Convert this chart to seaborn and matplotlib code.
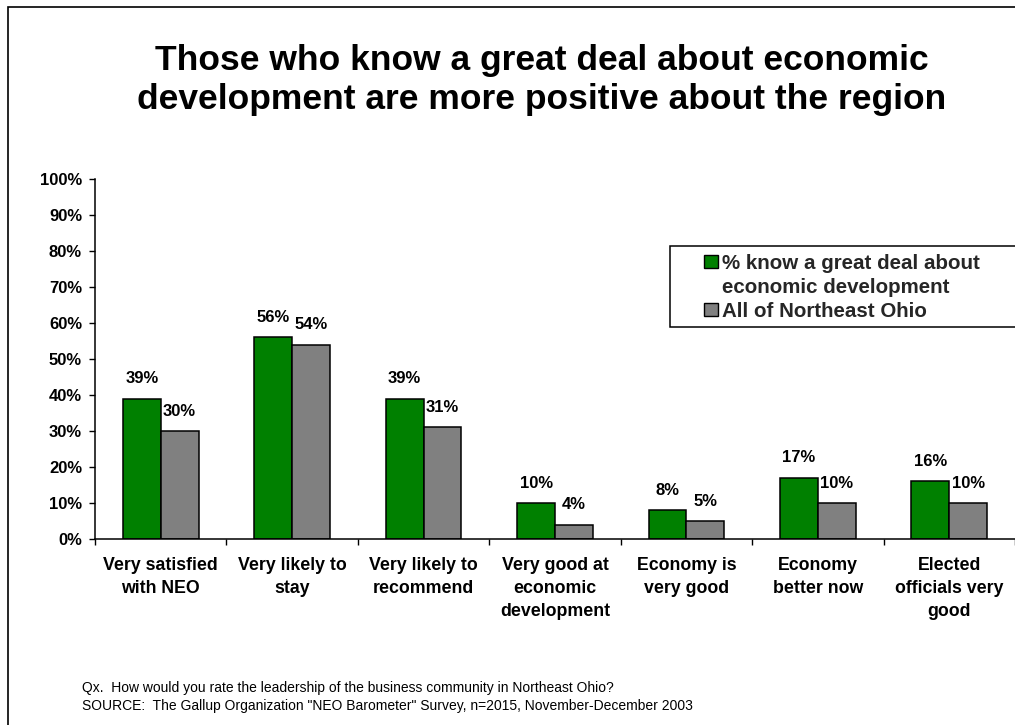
import matplotlib
matplotlib.use("Agg")
import matplotlib.pyplot as plt
from matplotlib.patches import Patch, Rectangle
import seaborn as sns
import pandas as pd

# --- chart data -------------------------------------------------------------
categories = [
    "Very satisfied\nwith NEO",
    "Very likely to\nstay",
    "Very likely to\nrecommend",
    "Very good at\neconomic\ndevelopment",
    "Economy is\nvery good",
    "Economy\nbetter now",
    "Elected\nofficials very\ngood",
]
series_names = ["% know a great deal about economic development", "All of Northeast Ohio"]
legend_lines = ["% know a great deal about", "economic development", "All of Northeast Ohio"]
know_great_deal = [39, 56, 39, 10, 8, 17, 16]
all_northeast_ohio = [30, 54, 31, 4, 5, 10, 10]
y_ticks = [0, 10, 20, 30, 40, 50, 60, 70, 80, 90, 100]
y_tick_labels = [f"{t}%" for t in y_ticks]

title = ("Those who know a great deal about economic\n"
         "development are more positive about the region")
footnotes = [
    "Qx.  How would you rate the leadership of the business community in Northeast Ohio?",
    'SOURCE:  The Gallup Organization "NEO Barometer" Survey, n=2015, November-December 2003',
]

GREEN = "#008000"
GRAY = "#808080"

sns.set_theme(style="white")
plt.rcParams["font.family"] = ["Liberation Sans", "DejaVu Sans"]

df = pd.DataFrame({
    "category": categories * 2,
    "pct": know_great_deal + all_northeast_ohio,
    "series": [series_names[0]] * len(categories) + [series_names[1]] * len(categories),
})

W, H = 1015, 725
fig = plt.figure(figsize=(W / 100, H / 100), dpi=100)
fig.patch.set_facecolor("white")

ax = fig.add_axes([95 / W, 1 - 539 / H, (W - 95) / W, 360 / H])
sns.barplot(
    data=df, x="category", y="pct", hue="series",
    order=categories, hue_order=series_names,
    palette=[GREEN, GRAY], saturation=1, width=0.576, gap=0,
    edgecolor="black", linewidth=1.1, legend=False, ax=ax,
)

ax.set_xlim(-0.5, 6.47)
ax.set_ylim(0, 100)
ax.set_xlabel("")
ax.set_ylabel("")
ax.set_yticks(y_ticks)
ax.set_yticklabels(y_tick_labels)
ax.set_facecolor("white")

for side in ("top", "right"):
    ax.spines[side].set_visible(False)
for side in ("left", "bottom"):
    ax.spines[side].set_color("black")
    ax.spines[side].set_linewidth(1.1)

ax.tick_params(axis="y", left=True, direction="out", length=4.3, width=1.0,
               pad=5, labelsize=12, colors="black")
ax.set_xticks([i - 0.5 for i in range(len(categories) + 1)], minor=True)
ax.tick_params(axis="x", which="major", bottom=False, length=0, pad=13,
               labelsize=12.8, labelcolor="black")
ax.tick_params(axis="x", which="minor", bottom=True, direction="out",
               length=4, width=1.0, color="black")
for lbl in ax.get_yticklabels():
    lbl.set_fontweight("bold")
for lbl in ax.get_xticklabels():
    lbl.set_fontweight("bold")
    lbl.set_linespacing(1.47)

# value labels above each bar
for container, values in zip(ax.containers, [know_great_deal, all_northeast_ohio]):
    ax.bar_label(container, labels=[f"{v}%" for v in values], padding=9,
                 fontsize=12, fontweight="bold", color="black")

# title
fig.text(542 / W, 1 - 80 / H, title, ha="center", va="center",
         fontsize=25.5, fontweight="bold", linespacing=1.2, color="black")

# legend: frame drawn separately, entries laid out without a frame
fig.add_artist(Rectangle((670 / W, 1 - 327 / H), 360 / W, 81 / H,
                         transform=fig.transFigure, facecolor="white",
                         edgecolor="black", linewidth=1.1, zorder=3))
handles = [
    Patch(facecolor=GREEN, edgecolor="black", linewidth=1.0),
    Patch(facecolor="none", edgecolor="none"),
    Patch(facecolor=GRAY, edgecolor="black", linewidth=1.0),
]
leg = fig.legend(handles, legend_lines, loc="upper left",
                 bbox_to_anchor=(704 / W, 1 - 254 / H), frameon=False,
                 borderpad=0, borderaxespad=0, handlelength=0.7, handleheight=0.62,
                 handletextpad=0.2, labelspacing=0.24,
                 prop={"weight": "bold", "size": 14.8})
leg.set_zorder(4)

# notes under the chart
fig.text(82 / W, 1 - 688 / H, footnotes[0], ha="left", va="center", fontsize=10, color="black")
fig.text(82 / W, 1 - 706 / H, footnotes[1], ha="left", va="center", fontsize=10, color="black")

# outer border of the slide area
fig.add_artist(Rectangle((8 / W, -0.05), 1.1, 1.05 - 7 / H, transform=fig.transFigure,
                         fill=False, edgecolor="black", linewidth=1.2, zorder=5))

fig.savefig("out.png", dpi=100, facecolor="white")
